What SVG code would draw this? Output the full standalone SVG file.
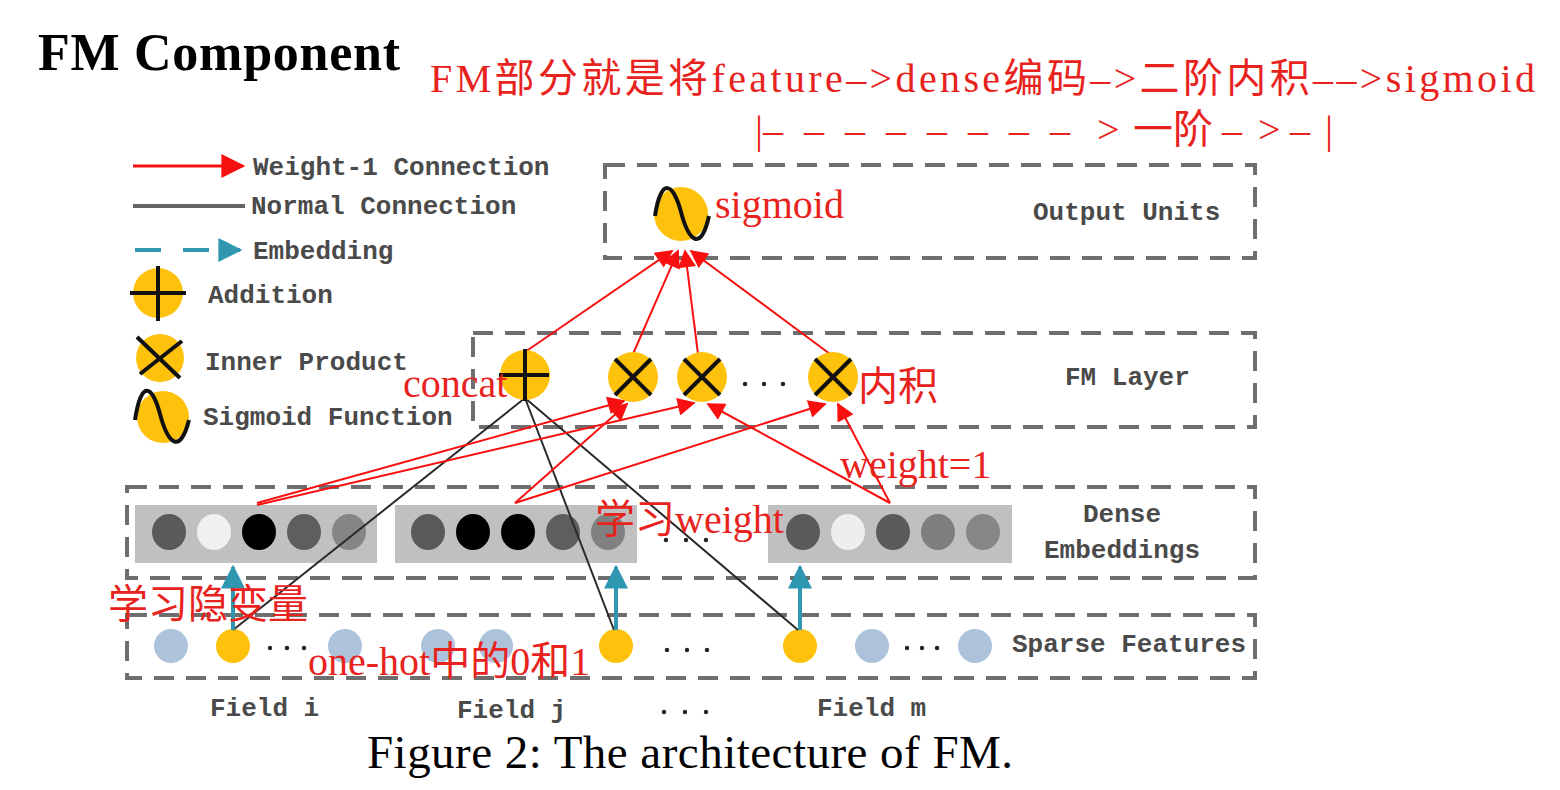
<svg xmlns="http://www.w3.org/2000/svg" width="1560" height="790" viewBox="0 0 1560 790">
<defs>
<marker id="ar" viewBox="0 0 10 10" refX="9" refY="5" markerWidth="22" markerHeight="18" markerUnits="userSpaceOnUse" orient="auto"><path d="M0,0 L10,5 L0,10 z" fill="#f81010"/></marker>
<marker id="arL" viewBox="0 0 10 10" refX="9" refY="5" markerWidth="26" markerHeight="24" markerUnits="userSpaceOnUse" orient="auto"><path d="M0,0 L10,5 L0,10 z" fill="#f81010"/></marker>
<marker id="at" viewBox="0 0 10 10" refX="9" refY="5" markerWidth="24" markerHeight="26" markerUnits="userSpaceOnUse" orient="auto"><path d="M0,0 L10,5 L0,10 z" fill="#2f97b0"/></marker>
</defs>
<style>
.box{fill:none;stroke:#6e6e6e;stroke-width:4;stroke-dasharray:20 12}
.mono{font-family:"Liberation Mono","DejaVu Sans Mono",monospace;font-size:26px;font-weight:bold;fill:#4a4a4a}
.red{font-family:"Liberation Serif","Noto Sans CJK SC",serif;font-size:40px;fill:#e8231d}
.yel{fill:#fec20c}
.blu{fill:#adc3dc}
.sym{fill:none;stroke:#111;stroke-width:4}
.rl{stroke:#f81010;stroke-width:2;fill:none}
.bl{stroke:#2a2a2a;stroke-width:2;fill:none}
.tl{stroke:#2f97b0;stroke-width:4;fill:none}
.emb{fill:#c0c0c0}
</style>
<rect width="1560" height="790" fill="#fff"/>
<text x="38" y="70" font-family="Liberation Serif,serif" font-weight="bold" font-size="52" textLength="362" fill="#000">FM Component</text>
<text class="red" x="430" y="92" font-size="41" textLength="1105">FM部分就是将feature–&gt;dense编码–&gt;二阶内积––&gt;sigmoid</text>
<text class="red" y="143" font-size="41" x="755 763 804 845 886 927 968 1009 1050 1097 1133 1173 1222 1258 1290 1325">|––––––––&gt;一阶–&gt;–|</text>

<g id="legend">
<line x1="133" y1="166" x2="243" y2="166" stroke="#f81010" stroke-width="3" marker-end="url(#arL)"/>
<text class="mono" x="253" y="175">Weight-1 Connection</text>
<line x1="133" y1="206" x2="245" y2="206" stroke="#666" stroke-width="4"/>
<text class="mono" x="251" y="214">Normal Connection</text>
<line x1="135" y1="250" x2="240" y2="250" stroke="#2f97b0" stroke-width="4" stroke-dasharray="26 22" marker-end="url(#at)"/>
<text class="mono" x="253" y="259">Embedding</text>
<circle class="yel" cx="158" cy="293" r="25"/>
<path class="sym" d="M130,293 H186 M158,266 V321"/>
<text class="mono" x="208" y="303">Addition</text>
<circle class="yel" cx="160" cy="358" r="24"/>
<path class="sym" d="M137,337 L180,378 M182,341 L140,374"/>
<text class="mono" x="205" y="370">Inner Product</text>
<circle class="yel" cx="163" cy="417" r="26"/>
<path class="sym" d="M135,420 C141,380 152,384 160,414 S180,455 189,420"/>
<text class="mono" x="203" y="425">Sigmoid Function</text>
</g>

<g id="layers">
<rect class="box" x="605" y="165" width="650" height="93"/>
<rect class="box" x="473" y="333" width="782" height="94"/>
<rect class="box" x="127" y="487" width="1128" height="91"/>
<rect class="box" x="127" y="615" width="1128" height="63"/>
<text class="mono" x="1033" y="220">Output Units</text>
<text class="mono" x="1065" y="385">FM Layer</text>
<text class="mono" x="1122" y="522" text-anchor="middle">Dense</text>
<text class="mono" x="1122" y="558" text-anchor="middle">Embeddings</text>
<text class="mono" x="1012" y="652">Sparse Features</text>
</g>

<g id="sparse">
<circle class="blu" cx="171" cy="646" r="17"/>
<circle class="yel" cx="233" cy="646" r="17"/>
<circle class="blu" cx="345" cy="646" r="17"/>
<circle class="blu" cx="438" cy="646" r="17"/>
<circle class="blu" cx="496" cy="646" r="17"/>
<circle class="yel" cx="616" cy="646" r="17"/>
<circle class="yel" cx="800" cy="646" r="17"/>
<circle class="blu" cx="872" cy="646" r="17"/>
<circle class="blu" cx="975" cy="646" r="17"/>
<g fill="#222">
<circle cx="270" cy="648" r="2.2"/><circle cx="287" cy="648" r="2.2"/><circle cx="304" cy="648" r="2.2"/>
<circle cx="667" cy="650" r="2.2"/><circle cx="687" cy="650" r="2.2"/><circle cx="707" cy="650" r="2.2"/>
<circle cx="907" cy="648" r="2.2"/><circle cx="922" cy="648" r="2.2"/><circle cx="937" cy="648" r="2.2"/>
<circle cx="664" cy="712" r="2.2"/><circle cx="685" cy="712" r="2.2"/><circle cx="706" cy="712" r="2.2"/>
<circle cx="666" cy="540" r="2.2"/><circle cx="686" cy="540" r="2.2"/><circle cx="706" cy="540" r="2.2"/>
<circle cx="745" cy="384" r="2.2"/><circle cx="764" cy="384" r="2.2"/><circle cx="783" cy="384" r="2.2"/>
</g>
<text class="mono" x="210" y="716">Field i</text>
<text class="mono" x="457" y="718">Field j</text>
<text class="mono" x="817" y="716">Field m</text>
</g>

<g id="dense">
<rect class="emb" x="135" y="505" width="242" height="58"/>
<rect class="emb" x="395" y="505" width="242" height="58"/>
<rect class="emb" x="768" y="505" width="244" height="58"/>
<ellipse cx="169" cy="532" rx="17" ry="18" fill="#5a5a5a"/>
<ellipse cx="214" cy="532" rx="17" ry="18" fill="#f0f0f0"/>
<ellipse cx="259" cy="532" rx="17" ry="18" fill="#000"/>
<ellipse cx="304" cy="532" rx="17" ry="18" fill="#5e5e5e"/>
<ellipse cx="349" cy="532" rx="17" ry="18" fill="#858585"/>
<ellipse cx="428" cy="532" rx="17" ry="18" fill="#5a5a5a"/>
<ellipse cx="473" cy="532" rx="17" ry="18" fill="#000"/>
<ellipse cx="518" cy="532" rx="17" ry="18" fill="#000"/>
<ellipse cx="563" cy="532" rx="17" ry="18" fill="#5e5e5e"/>
<ellipse cx="608" cy="532" rx="17" ry="18" fill="#808080"/>
<ellipse cx="803" cy="532" rx="17" ry="18" fill="#5a5a5a"/>
<ellipse cx="848" cy="532" rx="17" ry="18" fill="#eeeeee"/>
<ellipse cx="893" cy="532" rx="17" ry="18" fill="#5a5a5a"/>
<ellipse cx="938" cy="532" rx="17" ry="18" fill="#7e7e7e"/>
<ellipse cx="983" cy="532" rx="17" ry="18" fill="#868686"/>
</g>

<g id="connectors">
<line class="bl" x1="525" y1="398" x2="233" y2="630"/>
<line class="bl" x1="525" y1="398" x2="614" y2="630"/>
<line class="bl" x1="525" y1="398" x2="798" y2="630"/>
<line class="tl" x1="233" y1="630" x2="233" y2="567" marker-end="url(#at)"/>
<line class="tl" x1="616" y1="630" x2="616" y2="567" marker-end="url(#at)"/>
<line class="tl" x1="800" y1="630" x2="800" y2="567" marker-end="url(#at)"/>
<line class="rl" x1="257" y1="503" x2="624" y2="401" marker-end="url(#ar)"/>
<line class="rl" x1="257" y1="505" x2="694" y2="403" marker-end="url(#ar)"/>
<line class="rl" x1="515" y1="503" x2="627" y2="404" marker-end="url(#ar)"/>
<line class="rl" x1="515" y1="503" x2="825" y2="404" marker-end="url(#ar)"/>
<line class="rl" x1="890" y1="503" x2="708" y2="404" marker-end="url(#ar)"/>
<line class="rl" x1="890" y1="503" x2="838" y2="404" marker-end="url(#ar)"/>
<line class="rl" x1="525" y1="352" x2="672" y2="251" marker-end="url(#ar)"/>
<line class="rl" x1="633" y1="354" x2="678" y2="251" marker-end="url(#ar)"/>
<line class="rl" x1="698" y1="354" x2="685" y2="251" marker-end="url(#ar)"/>
<line class="rl" x1="830" y1="354" x2="691" y2="251" marker-end="url(#ar)"/>
</g>

<g id="fm-layer">
<circle class="yel" cx="525" cy="375" r="25"/>
<path class="sym" d="M499,375 H549 M525,349 V401"/>
<circle class="yel" cx="633" cy="377" r="25"/>
<path class="sym" d="M615,359 L651,395 M651,359 L615,395"/>
<circle class="yel" cx="702" cy="377" r="25"/>
<path class="sym" d="M684,359 L720,395 M720,359 L684,395"/>
<circle class="yel" cx="833" cy="377" r="25"/>
<path class="sym" d="M815,359 L851,395 M851,359 L815,395"/>
</g>

<g id="output">
<circle class="yel" cx="681" cy="214" r="27"/>
<path class="sym" d="M655,216 C661,177 673,182 681,212 S701,252 709,216"/>
</g>

<g id="annotations">
<text class="red" x="715" y="218">sigmoid</text>
<text class="red" x="403" y="397">concat</text>
<text class="red" x="858" y="400">内积</text>
<text class="red" x="840" y="478">weight=1</text>
<text class="red" x="595" y="533">学习weight</text>
<text class="red" x="108" y="618">学习隐变量</text>
<text class="red" x="308" y="675">one-hot中的0和1</text>
</g>

<text x="367" y="768" font-family="Liberation Serif,serif" font-size="47" textLength="646" fill="#000">Figure 2: The architecture of FM.</text>
</svg>
